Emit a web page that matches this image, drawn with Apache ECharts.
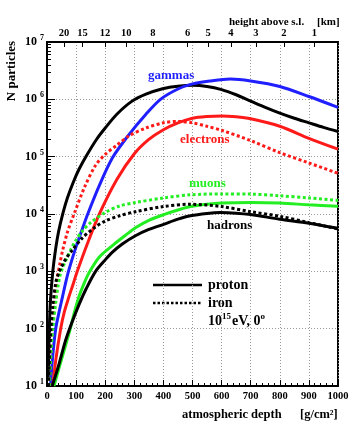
<!DOCTYPE html>
<html>
<head>
<meta charset="utf-8">
<script src="https://cdn.jsdelivr.net/npm/echarts@6/dist/echarts.min.js"></script>
<style>
  html, body { margin: 0; padding: 0; background: #fff; }
  #chart { width: 360px; height: 444px; }
</style>
</head>
<body>
<div id="chart"></div>
<script>
// [depth g/cm2, N particles]
var blackTop = [[4,13],[8,100],[12,316],[20,1000],[30,2512],[40,5012],[55,10471],[70,19055],[90,35481],[110,60256],[136,104713],[170,199526],[200,316228],[240,549541],[290,912011],[340,1230269],[400,1548817],[450,1698244],[500,1757924],[550,1678804],[600,1479108],[650,1202264],[700,933254],[750,724436],[800,575440],[850,467735],[900,389045],[950,323594],[1000,275423]];
var gammasP = [[12,10],[20,35],[30,100],[42,200],[53,355],[64,631],[75,1047],[98,2512],[120,5248],[140,10000],[180,31623],[225,95499],[281,240000],[340,550000],[390,1000000],[450,1513561],[500,1862087],[560,2089296],[630,2259436],[700,2089296],[800,1678804],[900,1122018],[1000,724436]];
var electronsP = [[20,10],[30,28],[47,100],[60,200],[75,355],[90,603],[104,1000],[140,3162],[180,10000],[240,39811],[300,112202],[350,199526],[400,295121],[450,389045],[500,467735],[550,501187],[600,512861],[650,495450],[700,457088],[800,338844],[900,208930],[1000,134896]];
var electronsFe = [[8,10],[12,32],[18,100],[26,282],[36,794],[45,1413],[53,2239],[70,4786],[93,10000],[130,30200],[167,70795],[200,109648],[240,158489],[281,229087],[340,316228],[400,389045],[450,412098],[500,389045],[550,338844],[600,288403],[700,190546],[800,117490],[900,77625],[1000,51286]];
var muonsP = [[24,10],[40,19.5],[60,43.7],[80,100],[95,200],[110,363],[125,575],[144,933],[180,1778],[230,2951],[270,4266],[304,5754],[350,7762],[401,9772],[450,11749],[493,13490],[550,14791],[600,15488],[700,15849],[800,15488],[900,14454],[1000,13646]];
var muonsFe = [[8,10],[14,40],[20,100],[30,282],[38,562],[45,851],[54,1175],[64,1514],[81,2344],[98,3388],[121,5012],[150,7079],[201,10715],[250,13804],[304,15849],[400,19055],[493,21627],[600,22387],[700,22233],[800,20797],[900,19055],[1000,17219]];
var hadronsP = [[18,10],[40,22.9],[64,63.1],[85,126],[110,263],[135,501],[167,1000],[200,1585],[224,2138],[260,3020],[304,4169],[350,5370],[401,6607],[450,8128],[493,9333],[550,10233],[595,10593],[650,10351],[700,9772],[800,8128],[900,6918],[1000,5623]];
var hadronsFe = [[5,10],[9,35.5],[13,89],[20,251],[30,631],[40,933],[50,1202],[65,1660],[87,2344],[121,3802],[160,5623],[201,7586],[250,9333],[304,10965],[400,13490],[493,14791],[600,13490],[700,10965],[800,9120],[900,7079],[1000,5495]];

// top axis: height above sea level
var kmLabels = ['20','15','12','10','8','6','5','4','3','2','1'];
var kmDepth = [58,122,199,272,364,483,554,632,718,814,919];

var yMinor = [];
[10,100,1000,10000,100000,1000000].forEach(function (d) {
  for (var k = 2; k <= 9; k++) yMinor.push(d * k);
});

var SERIF = '"Liberation Serif", "DejaVu Serif", serif';
var chart = echarts.init(document.getElementById('chart'));

function curve(name, data, color, dotted) {
  return {
    name: name,
    type: 'line',
    data: data,
    showSymbol: false,
    smooth: 0.3,
    lineStyle: { color: color, width: 3, type: dotted ? [3, 2.5] : 'solid' },
    silent: true
  };
}

var option = {
  animation: false,
  grid: { left: 47, right: 22, top: 42, bottom: 58, show: true, borderColor: '#000', borderWidth: 2, backgroundColor: 'transparent' },
  xAxis: [{
    type: 'value', min: 0, max: 1000, interval: 100, position: 'bottom',
    axisLine: { show: true, lineStyle: { color: '#000', width: 2 } },
    axisTick: { inside: true, length: 6, lineStyle: { color: '#000' } },
    minorTick: { show: true, splitNumber: 5, length: 3, lineStyle: { color: '#000' } },
    axisLabel: { margin: 5, color: '#000', fontFamily: SERIF, fontWeight: 'bold', fontSize: 10.5, formatter: function (v) { return String(v); } },
    splitLine: { show: true, lineStyle: { color: '#999', type: [1, 2], width: 1 } }
  }, {
    type: 'value', min: 0, max: 1000, position: 'top',
    axisLine: { show: true, lineStyle: { color: '#000', width: 2 } },
    axisTick: { inside: true, length: 5, customValues: kmDepth, lineStyle: { color: '#000' } },
    axisLabel: {
      margin: 3, color: '#000', fontFamily: SERIF, fontWeight: 'bold', fontSize: 10.5,
      customValues: kmDepth,
      formatter: function (v) { return kmLabels[kmDepth.indexOf(v)]; }
    },
    splitLine: { show: false }
  }],
  yAxis: [{
    type: 'log', logBase: 10, min: 10, max: 10000000,
    axisLine: { show: true, lineStyle: { color: '#000', width: 2 } },
    axisTick: { inside: true, length: 8, lineStyle: { color: '#000' } },
    axisLabel: {
      margin: 3, color: '#000',
      formatter: function (v) { return '{b|10}{s|' + Math.round(Math.log10(v)) + '}'; },
      rich: {
        b: { fontFamily: SERIF, fontWeight: 'bold', fontSize: 12 },
        s: { fontFamily: SERIF, fontWeight: 'bold', fontSize: 8, padding: [0, 0, 8, 3] }
      }
    },
    splitLine: { show: true, lineStyle: { color: '#999', type: [1, 2], width: 1 } }
  }, {
    type: 'log', logBase: 10, min: 10, max: 10000000, position: 'left',
    axisLine: { show: false },
    axisTick: { inside: true, length: 4, customValues: yMinor, lineStyle: { color: '#000' } },
    axisLabel: { show: false },
    splitLine: { show: false }
  }],
  series: [
    curve('black', blackTop, '#000', false),
    curve('gammas', gammasP, '#1f1fff', false),
    curve('electrons proton', electronsP, '#ff1a1a', false),
    curve('electrons iron', electronsFe, '#ff1a1a', true),
    curve('muons proton', muonsP, '#22ee22', false),
    curve('muons iron', muonsFe, '#22ee22', true),
    curve('hadrons iron', hadronsFe, '#000', true),
    curve('hadrons proton', hadronsP, '#000', false)
  ],
  graphic: [
    { type: 'text', x: 12, y: 71, rotation: Math.PI / 2, style: { text: 'N particles', font: 'bold 13px ' + SERIF, fill: '#000', align: 'center', verticalAlign: 'middle' } },
    { type: 'text', x: 229, y: 22, style: { text: 'height above s.l.', font: 'bold 11px ' + SERIF, fill: '#000', verticalAlign: 'middle' } },
    { type: 'text', x: 317, y: 22, style: { text: '[km]', font: 'bold 11px ' + SERIF, fill: '#000', verticalAlign: 'middle' } },
    { type: 'text', x: 182, y: 415, style: { text: 'atmospheric depth', font: 'bold 12.5px ' + SERIF, fill: '#000', verticalAlign: 'middle' } },
    { type: 'text', x: 300, y: 415, style: { text: '[g/cm\u00b2]', font: 'bold 12.5px ' + SERIF, fill: '#000', verticalAlign: 'middle' } },
    { type: 'text', x: 148, y: 76, style: { text: 'gammas', font: 'bold 13px ' + SERIF, fill: '#1f1fff', verticalAlign: 'middle' } },
    { type: 'text', x: 180, y: 140, style: { text: 'electrons', font: 'bold 13px ' + SERIF, fill: '#ff1a1a', verticalAlign: 'middle' } },
    { type: 'text', x: 189, y: 184, style: { text: 'muons', font: 'bold 13px ' + SERIF, fill: '#22ee22', verticalAlign: 'middle' } },
    { type: 'text', x: 207, y: 226, style: { text: 'hadrons', font: 'bold 13px ' + SERIF, fill: '#000', verticalAlign: 'middle' } },
    { type: 'line', shape: { x1: 153, y1: 285, x2: 202, y2: 285 }, style: { stroke: '#000', lineWidth: 2.5 } },
    { type: 'line', shape: { x1: 153, y1: 303, x2: 202, y2: 303 }, style: { stroke: '#000', lineWidth: 2.5, lineDash: [2.5, 2] } },
    { type: 'text', x: 208, y: 285, style: { text: 'proton', font: 'bold 14px ' + SERIF, fill: '#000', verticalAlign: 'middle' } },
    { type: 'text', x: 208, y: 303, style: { text: 'iron', font: 'bold 14px ' + SERIF, fill: '#000', verticalAlign: 'middle' } },
    { type: 'text', x: 208, y: 321, style: {
      text: '{a|10}{b|15}{a|eV, 0}{b|o}', fill: '#000', verticalAlign: 'middle',
      rich: {
        a: { font: 'bold 14px ' + SERIF, fill: '#000' },
        b: { font: 'bold 9px ' + SERIF, fill: '#000', padding: [0, 1, 9, 0] }
      }
    } }
  ]
};
chart.setOption(option);
</script>
</body>
</html>
